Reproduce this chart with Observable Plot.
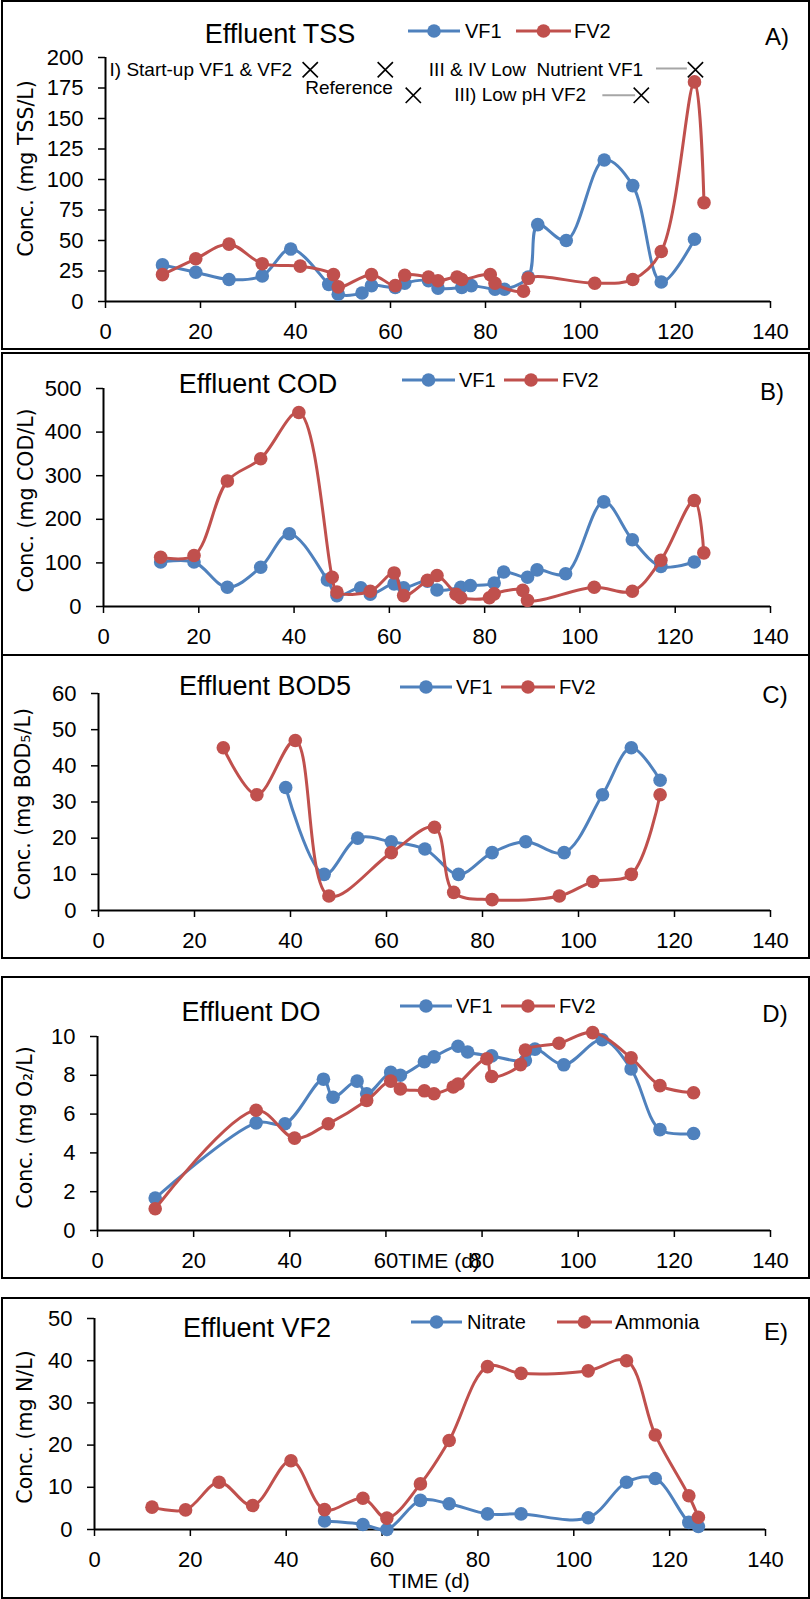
<!DOCTYPE html>
<html><head><meta charset="utf-8">
<script src="https://cdn.jsdelivr.net/npm/d3@7"></script>
<script src="https://cdn.jsdelivr.net/npm/@observablehq/plot@0.6"></script>
<style>
html,body{margin:0;padding:0;background:#fff;}
#page{position:relative;width:810px;height:1599px;overflow:hidden;background:#fff;}
.panel{position:absolute;box-sizing:border-box;border:2px solid #000;}
.plot{position:absolute;left:0;}
#overlay{position:absolute;left:0;top:0;pointer-events:none;}
</style></head><body><div id="page"></div>
<script>
// ---------- data ----------
const xTicks = [0, 20, 40, 60, 80, 100, 120, 140];

// A) TSS
const tssDayVF1 = [12,19,26,33,39,47,49,54,56,61,63,68,70,75,77,82,84,89,91,97,105,111,117,124];
const tssVF1    = [30,24,18,21,43,14,6,7,13,11.5,15,17,11,11.5,13,10,10,20,63,50,116,95,16,51];
const tssDayFV2 = [12,19,26,33,41,48,49,56,61,63,68,70,74,75,81,82,88,89,103,111,117,124,126];
const tssFV2    = [22,35,47,31,29,22,12,22,13,21.5,20,17,20,18,22,15,8.5,19,15,18,41,180,81];
const tssTicks  = [0,25,50,75,100,125,150,175,200];

// B) COD
const codDayVF1 = [12,19,26,33,39,47,49,54,56,61,63,68,70,75,77,82,84,89,91,97,105,111,117,124];
const codVF1    = [102,102,44,90,167,61,25,43,28,52,43,58,38,44,48,54,79,67,84,75,240,153,92,102];
const codDayFV2 = [12,19,26,33,41,48,49,56,61,63,68,70,74,75,81,82,88,89,103,111,117,124,126];
const codFV2    = [113,117,288,339,445,67,33,35,77,25,60,71,28,20,20,29,37,14,44,35,106,243,123];
const codTicks  = [0,100,200,300,400,500];

// C) BOD5
const bodDayVF1 = [39,47,54,61,68,75,82,89,97,105,111,117];
const bodVF1    = [34,10,20,19,17,10,16,19,16,32,45,36];
const bodDayFV2 = [26,33,41,48,61,70,74,82,96,103,111,117];
const bodFV2    = [45,32,47,4,16,23,5,3,4,8,10,32];
const bodTicks  = [0,10,20,30,40,50,60];

// D) DO
const doDayVF1 = [12,33,39,47,49,54,56,61,63,68,70,75,77,82,89,91,97,105,111,117,124];
const doVF1    = [1.67,5.55,5.5,7.8,6.87,7.7,7.05,8.15,8.0,8.7,8.95,9.5,9.2,9.0,8.76,9.35,8.54,9.83,8.33,5.2,5.0];
const doDayFV2 = [12,33,41,48,56,61,63,68,70,74,75,81,82,88,89,96,103,111,117,124];
const doFV2    = [1.12,6.2,4.76,5.5,6.7,7.7,7.3,7.2,7.05,7.4,7.55,8.85,7.94,8.55,9.3,9.65,10.2,8.9,7.47,7.1];
const doTicks  = [0,2,4,6,8,10];

// E) VF2 nitrogen
const nitDay   = [48,56,61,68,74,82,89,103,111,117,124,126];
const nitrate  = [2.0,1.2,0,6.9,6.1,3.7,3.7,2.8,11.2,12.1,1.7,0.7];
const ammDay   = [12,19,26,33,41,48,56,61,68,74,82,89,103,111,117,124,126];
const ammonia  = [5.3,4.65,11.2,5.7,16.3,4.7,7.4,2.7,10.8,21.1,38.6,37.0,37.6,40.0,22.4,8.0,2.9];
const nTicks   = [0,10,20,30,40,50];

// Panel A annotations
const annoMarkX = [43.1, 58.9, 124.2, 64.8, 112.8];
const annoMarkY = [190, 190, 190, 169, 169];
const annoText  = ["I) Start-up VF1 & VF2", "III & IV Low\u00a0 Nutrient VF1", "Reference", "III) Low pH VF2"];
const annoTextX = [39.3, 113.2, 60.5, 101.2];
const annoTextY = [190, 190, 175, 169];
const leadX1 = [115.9, 104.6];
const leadX2 = [122.4, 111.5];
const leadY  = [191, 169];

const titles = ["Effluent TSS", "Effluent COD", "Effluent BOD5", "Effluent DO", "Effluent VF2"];
const tags   = ["A)", "B)", "C)", "D)", "E)"];
const yLabels = ["Conc. (mg TSS/L)", "Conc. (mg COD/L)", "Conc. (mg BOD\u2085/L)", "Conc. (mg O\u2082/L)", "Conc. (mg N/L)"];
const names1 = ["VF1", "VF1", "VF1", "VF1", "Nitrate"];
const names2 = ["FV2", "FV2", "FV2", "FV2", "Ammonia"];

const BLUE = "#4F81BD", RED = "#C0504D";
const FONT = "Liberation Sans, Arial, sans-serif";

// ---------- build ----------
const rows = (days, vals) => days.map((d, i) => ({day: d, value: vals[i]}));

const panels = [
  {top: 0,    h: 349, ml: 105, mr: 40,  mt: 57, mb: 48, dom: [0,200], ticks: tssTicks,
   s1: rows(tssDayVF1, tssVF1), s2: rows(tssDayFV2, tssFV2), ldx: -79, ldy: -11},
  {top: 353,  h: 302, ml: 103, mr: 40,  mt: 35, mb: 49, dom: [0,500], ticks: codTicks,
   s1: rows(codDayVF1, codVF1), s2: rows(codDayFV2, codFV2), ldx: -77, ldy: 3},
  {top: 655,  h: 303, ml: 98,  mr: 40,  mt: 38, mb: 48, dom: [0,60], ticks: bodTicks,
   s1: rows(bodDayVF1, bodVF1), s2: rows(bodDayFV2, bodFV2), ldx: -75, ldy: 2},
  {top: 977,  h: 301, ml: 97,  mr: 40,  mt: 59, mb: 48, dom: [0,10], ticks: doTicks,
   s1: rows(doDayVF1, doVF1), s2: rows(doDayFV2, doFV2), ldx: -72, ldy: -6},
  {top: 1298, h: 300, ml: 94,  mr: 45,  mt: 20, mb: 69, dom: [0,50], ticks: nTicks,
   s1: rows(nitDay, nitrate), s2: rows(ammDay, ammonia), ldx: -69, ldy: 3}
];

const borders = [
  {left: 1, top: 0, w: 809, h: 350},
  {left: 1, top: 352, w: 809, h: 304},
  {left: 1, top: 654, w: 809, h: 305},
  {left: 1, top: 976, w: 809, h: 303},
  {left: 1, top: 1297, w: 809, h: 302}
];

const page = document.getElementById("page");
borders.forEach(b => {
  const d = document.createElement("div");
  d.className = "panel";
  Object.assign(d.style, {left: b.left + "px", top: b.top + "px", width: b.w + "px", height: b.h + "px"});
  page.appendChild(d);
});

panels.forEach((p, k) => {
  const marks = [
    Plot.axisX({ticks: xTicks, tickSize: 7, tickPadding: 15, label: null, strokeWidth: 1.5}),
    Plot.axisY({ticks: p.ticks, tickSize: 7, tickPadding: 15, label: null, strokeWidth: 1.5}),
    Plot.ruleX([0], {stroke: "#000", strokeWidth: 2}),
    Plot.ruleY([0], {stroke: "#000", strokeWidth: 2}),
    Plot.text([yLabels[k]], {text: d => d, frameAnchor: "left", textAnchor: "middle", lineAnchor: "middle",
      rotate: -90, dx: p.ldx, dy: p.ldy,
      fontFamily: "DejaVu Sans, sans-serif", fontSize: 20.5, fill: "#000"})
  ];
  if (k === 0) {
    const marksA = annoMarkX.map((x, i) => ({x, y: annoMarkY[i]}));
    const labelsA = annoText.map((t, i) => ({t, x: annoTextX[i], y: annoTextY[i]}));
    const leads = leadX1.map((x1, i) => ({x1, x2: leadX2[i], y: leadY[i]}));
    marks.push(
      Plot.link(leads, {x1: "x1", x2: "x2", y1: "y", y2: "y", stroke: "#a6a6a6", strokeWidth: 2}),
      Plot.dot(marksA, {x: "x", y: "y", symbol: "times", r: 7, stroke: "#000", strokeWidth: 1.6}),
      Plot.text(labelsA, {x: "x", y: "y", text: "t", textAnchor: "end", fontSize: 19, fill: "#000"})
    );
  }
  marks.push(
    Plot.line(p.s1, {x: "day", y: "value", stroke: BLUE, strokeWidth: 3, curve: "catmull-rom"}),
    Plot.dot(p.s1, {x: "day", y: "value", fill: BLUE, r: 6.8}),
    Plot.line(p.s2, {x: "day", y: "value", stroke: RED, strokeWidth: 3, curve: "catmull-rom"}),
    Plot.dot(p.s2, {x: "day", y: "value", fill: RED, r: 6.8})
  );
  const svg = Plot.plot({
    width: 810, height: p.h,
    marginLeft: p.ml, marginRight: p.mr, marginTop: p.mt, marginBottom: p.mb,
    x: {domain: [0, 140]},
    y: {domain: p.dom},
    style: {fontFamily: FONT, fontSize: "22px", color: "#000", background: "transparent", overflow: "visible"},
    marks
  });
  svg.classList.add("plot");
  svg.style.top = p.top + "px";
  svg.style.position = "absolute";
  svg.style.left = "0px";
  page.appendChild(svg);
});

// ---------- overlay: titles, legends, panel tags ----------
const ov = d3.select(page).append("svg").attr("id", "overlay").attr("width", 810).attr("height", 1599)
  .style("font-family", FONT);

const titlePos = [[280, 34], [258, 384], [265, 686], [251, 1012], [257, 1328]];
const tagPos   = [[777, 36], [772, 391], [775, 694], [775, 1013], [776, 1331]];
// legend: [line1 start, line1 end, label1 x, line2 start, line2 end, label2 x, y]
const legPos = [
  [408, 460, 465, 516, 571, 574, 31],
  [402, 455, 459, 504, 558, 562, 380],
  [400, 452, 456, 501, 555, 559, 687],
  [400, 452, 456, 501, 555, 559, 1006],
  [411, 462, 467, 557, 612, 615, 1322]
];

titles.forEach((t, k) => {
  ov.append("text").attr("x", titlePos[k][0]).attr("y", titlePos[k][1])
    .attr("text-anchor", "middle").attr("dominant-baseline", "central")
    .attr("font-size", 27).text(t);
  ov.append("text").attr("x", tagPos[k][0]).attr("y", tagPos[k][1])
    .attr("text-anchor", "middle").attr("dominant-baseline", "central")
    .attr("font-size", 24).text(tags[k]);
  const L = legPos[k];
  [[L[0], L[1], L[2], BLUE, names1[k]], [L[3], L[4], L[5], RED, names2[k]]].forEach(([a, b, lx, c, n]) => {
    ov.append("line").attr("x1", a).attr("x2", b).attr("y1", L[6]).attr("y2", L[6])
      .attr("stroke", c).attr("stroke-width", 3);
    ov.append("circle").attr("cx", (a + b) / 2).attr("cy", L[6]).attr("r", 6.8).attr("fill", c);
    ov.append("text").attr("x", lx).attr("y", L[6]).attr("dominant-baseline", "central")
      .attr("font-size", 20).text(n);
  });
});

// x-axis titles (TIME) as in the original layout
[[439, 1260], [429, 1580]].forEach(([x, y]) => {
  ov.append("text").attr("x", x).attr("y", y).attr("text-anchor", "middle")
    .attr("dominant-baseline", "central").attr("font-size", 21).text("TIME (d)");
});
</script>
</body></html>
